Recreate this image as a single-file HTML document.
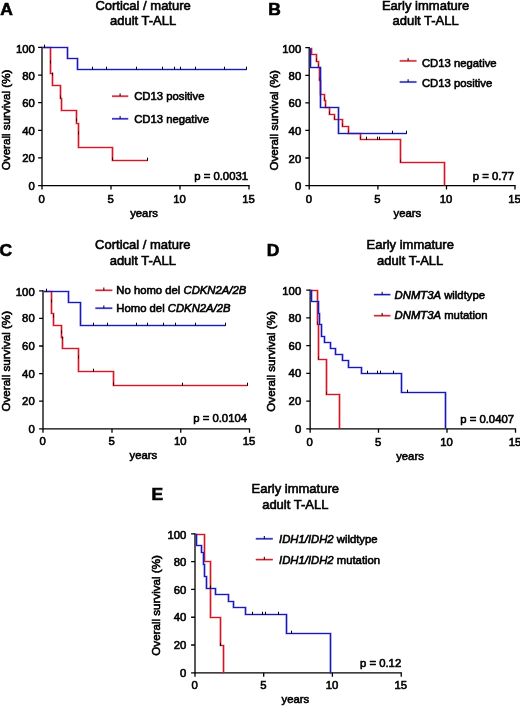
<!DOCTYPE html>
<html><head><meta charset="utf-8"><title>Survival curves</title>
<style>
html,body{margin:0;padding:0;background:#fff;}
body{width:520px;height:706px;overflow:hidden;font-family:"Liberation Sans",sans-serif;}
svg{display:block;will-change:transform;font-family:"Liberation Sans",sans-serif;fill:#000;}
text{stroke:#000;stroke-width:0.6px;}
</style></head><body>
<svg width="520" height="706" viewBox="0 0 520 706">
<rect width="520" height="706" fill="#fff"/>
<text transform="translate(0.2,15.2) scale(1.05,1)" font-size="16.6" font-weight="bold" stroke-width="0.5">A</text>
<text x="143.1" y="9.5" text-anchor="middle" font-size="13">Cortical / mature</text>
<text x="143.1" y="25.4" text-anchor="middle" font-size="13">adult T-ALL</text>
<path d="M42,46.8 V185.6 H249.6" fill="none" stroke="#000" stroke-width="1.3"/>
<path d="M38.1,185.60 H42 M38.1,157.96 H42 M38.1,130.32 H42 M38.1,102.68 H42 M38.1,75.04 H42 M38.1,47.40 H42 M42.00,185.6 V189.5 M111.00,185.6 V189.5 M180.00,185.6 V189.5 M249.00,185.6 V189.5 " fill="none" stroke="#000" stroke-width="1.3"/>
<text x="34.90" y="190.10" text-anchor="end" font-size="11.3">0</text>
<text x="34.90" y="162.46" text-anchor="end" font-size="11.3">20</text>
<text x="34.90" y="134.82" text-anchor="end" font-size="11.3">40</text>
<text x="34.90" y="107.18" text-anchor="end" font-size="11.3">60</text>
<text x="34.90" y="79.54" text-anchor="end" font-size="11.3">80</text>
<text x="34.90" y="52.80" text-anchor="end" font-size="11.3">100</text>
<text x="41.60" y="203.20" text-anchor="middle" font-size="11.3">0</text>
<text x="110.60" y="203.20" text-anchor="middle" font-size="11.3">5</text>
<text x="179.60" y="203.20" text-anchor="middle" font-size="11.3">10</text>
<text x="248.60" y="203.20" text-anchor="middle" font-size="11.3">15</text>
<text transform="translate(9.6,119.9) rotate(-90)" text-anchor="middle" font-size="11.6">Overall survival (%)</text>
<text x="144" y="216.6" text-anchor="middle" font-size="11.3">years</text>
<text x="248" y="179.8" text-anchor="end" font-size="11.3">p = 0.0031</text>
<path d="M42.50,47.50 L50.50,47.50 L50.50,73.50 L52.50,73.50 L52.50,85.50 L60.50,85.50 L60.50,98.50 L61.50,98.50 L61.50,110.50 L76.50,110.50 L76.50,123.50 L78.50,123.50 L78.50,147.50 L112.50,147.50 L112.50,160.50 L147.50,160.50" fill="none" stroke="#f03444" stroke-width="2.2" stroke-opacity="0.5" stroke-linejoin="miter"/>
<path d="M42.50,47.50 L50.50,47.50 L50.50,73.50 L52.50,73.50 L52.50,85.50 L60.50,85.50 L60.50,98.50 L61.50,98.50 L61.50,110.50 L76.50,110.50 L76.50,123.50 L78.50,123.50 L78.50,147.50 L112.50,147.50 L112.50,160.50 L147.50,160.50" fill="none" stroke="#cc1a28" stroke-width="1.2" stroke-linejoin="miter"/>
<path d="M147.50,157.70 V160.80" fill="none" stroke="#000" stroke-width="1"/>
<path d="M50.50,60.50 V63.50 M52.50,72.50 V75.50 M60.50,95.50 V98.50 M76.50,118.50 V121.50 M78.50,131.50 V134.50 M112.50,157.50 V160.50" fill="none" stroke="#000" stroke-width="1" opacity="0.75"/>
<path d="M42.50,47.50 L67.50,47.50 L67.50,58.50 L77.50,58.50 L77.50,69.50 L246.50,69.50" fill="none" stroke="#4444e4" stroke-width="2.2" stroke-opacity="0.5" stroke-linejoin="miter"/>
<path d="M42.50,47.50 L67.50,47.50 L67.50,58.50 L77.50,58.50 L77.50,69.50 L246.50,69.50" fill="none" stroke="#1a1aac" stroke-width="1.2" stroke-linejoin="miter"/>
<path d="M92.50,66.70 V69.80 M106.50,66.70 V69.80 M136.50,66.70 V69.80 M162.50,66.70 V69.80 M174.50,66.70 V69.80 M180.50,66.70 V69.80 M195.50,66.70 V69.80 M224.50,66.70 V69.80 M246.50,66.70 V69.80" fill="none" stroke="#000" stroke-width="1"/>
<path d="M44.50,44.70 V47.80" fill="none" stroke="#000" stroke-width="1"/>
<path d="M112,96.2 H128.2" stroke="#f03444" stroke-width="2.2" stroke-opacity="0.5" fill="none"/>
<path d="M112,96.2 H128.2" stroke="#cc1a28" stroke-width="1.1" fill="none"/>
<path d="M120.1,93.4 V96.2" stroke="#000" stroke-width="1" fill="none"/>
<text x="134.2" y="100.3" font-size="11.3">CD13 positive</text>
<path d="M112,118.8 H128.2" stroke="#4444e4" stroke-width="2.2" stroke-opacity="0.5" fill="none"/>
<path d="M112,118.8 H128.2" stroke="#1a1aac" stroke-width="1.1" fill="none"/>
<path d="M120.1,116.0 V118.8" stroke="#000" stroke-width="1" fill="none"/>
<text x="134.2" y="122.7" font-size="11.3">CD13 negative</text>
<text transform="translate(268.3,15.2) scale(1.05,1)" font-size="16.6" font-weight="bold" stroke-width="0.5">B</text>
<text x="425.6" y="9.5" text-anchor="middle" font-size="13">Early immature</text>
<text x="425.6" y="25.4" text-anchor="middle" font-size="13">adult T-ALL</text>
<path d="M309.2,47.1 V185.6 H515.6" fill="none" stroke="#000" stroke-width="1.3"/>
<path d="M305.3,185.60 H309.2 M305.3,158.02 H309.2 M305.3,130.44 H309.2 M305.3,102.86 H309.2 M305.3,75.28 H309.2 M305.3,47.70 H309.2 M309.20,185.6 V189.5 M377.90,185.6 V189.5 M446.50,185.6 V189.5 M515.00,185.6 V189.5 " fill="none" stroke="#000" stroke-width="1.3"/>
<text x="301.20" y="190.20" text-anchor="end" font-size="11.3">0</text>
<text x="301.20" y="162.62" text-anchor="end" font-size="11.3">20</text>
<text x="301.20" y="135.04" text-anchor="end" font-size="11.3">40</text>
<text x="301.20" y="107.46" text-anchor="end" font-size="11.3">60</text>
<text x="301.20" y="79.88" text-anchor="end" font-size="11.3">80</text>
<text x="301.20" y="53.10" text-anchor="end" font-size="11.3">100</text>
<text x="308.80" y="203.20" text-anchor="middle" font-size="11.3">0</text>
<text x="377.50" y="203.20" text-anchor="middle" font-size="11.3">5</text>
<text x="446.10" y="203.20" text-anchor="middle" font-size="11.3">10</text>
<text x="514.60" y="203.20" text-anchor="middle" font-size="11.3">15</text>
<text transform="translate(277.6,120.3) rotate(-90)" text-anchor="middle" font-size="11.6">Overall survival (%)</text>
<text x="407.3" y="216.6" text-anchor="middle" font-size="11.3">years</text>
<text x="514" y="179.7" text-anchor="end" font-size="11.3">p = 0.77</text>
<path d="M310.50,48.50 L311.50,48.50 L311.50,54.50 L316.50,54.50 L316.50,61.50 L318.50,61.50 L318.50,67.50 L319.50,67.50 L319.50,80.50 L320.50,80.50 L320.50,94.50 L324.50,94.50 L324.50,100.50 L325.50,100.50 L325.50,107.50 L329.50,107.50 L329.50,114.50 L334.50,114.50 L334.50,119.50 L342.50,119.50 L342.50,126.50 L348.50,126.50 L348.50,133.50 L360.50,133.50 L360.50,139.50 L400.50,139.50 L400.50,162.50 L444.50,162.50 L444.50,185.50" fill="none" stroke="#f03444" stroke-width="2.2" stroke-opacity="0.5" stroke-linejoin="miter"/>
<path d="M310.50,48.50 L311.50,48.50 L311.50,54.50 L316.50,54.50 L316.50,61.50 L318.50,61.50 L318.50,67.50 L319.50,67.50 L319.50,80.50 L320.50,80.50 L320.50,94.50 L324.50,94.50 L324.50,100.50 L325.50,100.50 L325.50,107.50 L329.50,107.50 L329.50,114.50 L334.50,114.50 L334.50,119.50 L342.50,119.50 L342.50,126.50 L348.50,126.50 L348.50,133.50 L360.50,133.50 L360.50,139.50 L400.50,139.50 L400.50,162.50 L444.50,162.50 L444.50,185.50" fill="none" stroke="#cc1a28" stroke-width="1.2" stroke-linejoin="miter"/>
<path d="M366.50,136.70 V139.80 M377.50,136.70 V139.80 M379.50,136.70 V139.80" fill="none" stroke="#000" stroke-width="1"/>
<path d="M316.50,58.50 V61.50 M318.50,64.50 V67.50 M319.50,77.50 V80.50 M320.50,91.50 V94.50 M324.50,97.50 V100.50 M325.50,104.50 V107.50 M329.50,111.50 V114.50 M334.50,116.50 V119.50 M342.50,123.50 V126.50 M348.50,130.50 V133.50 M360.50,136.50 V139.50 M400.50,159.50 V162.50" fill="none" stroke="#000" stroke-width="1" opacity="0.55"/>
<path d="M310.50,48.50 L310.50,48.50 L310.50,67.50 L320.50,67.50 L320.50,107.50 L338.50,107.50 L338.50,133.50 L406.50,133.50" fill="none" stroke="#4444e4" stroke-width="2.2" stroke-opacity="0.5" stroke-linejoin="miter"/>
<path d="M310.50,48.50 L310.50,48.50 L310.50,67.50 L320.50,67.50 L320.50,107.50 L338.50,107.50 L338.50,133.50 L406.50,133.50" fill="none" stroke="#1a1aac" stroke-width="1.2" stroke-linejoin="miter"/>
<path d="M392.50,130.70 V133.80 M406.50,130.70 V133.80" fill="none" stroke="#000" stroke-width="1"/>
<path d="M399.7,60.9 H416.5" stroke="#f03444" stroke-width="2.2" stroke-opacity="0.5" fill="none"/>
<path d="M399.7,60.9 H416.5" stroke="#cc1a28" stroke-width="1.1" fill="none"/>
<path d="M408.1,58.1 V60.9" stroke="#000" stroke-width="1" fill="none"/>
<text x="421.9" y="66.8" font-size="11.3">CD13 negative</text>
<path d="M399.7,82 H416.5" stroke="#4444e4" stroke-width="2.2" stroke-opacity="0.5" fill="none"/>
<path d="M399.7,82 H416.5" stroke="#1a1aac" stroke-width="1.1" fill="none"/>
<path d="M408.1,79.2 V82" stroke="#000" stroke-width="1" fill="none"/>
<text x="421.9" y="86.5" font-size="11.3">CD13 positive</text>
<text transform="translate(-0.6,256.1) scale(1.05,1)" font-size="16.6" font-weight="bold" stroke-width="0.5">C</text>
<text x="142.8" y="249.4" text-anchor="middle" font-size="13">Cortical / mature</text>
<text x="142.8" y="265.3" text-anchor="middle" font-size="13">adult T-ALL</text>
<path d="M43,290.2 V428.8 H250.1" fill="none" stroke="#000" stroke-width="1.3"/>
<path d="M39.1,428.80 H43 M39.1,401.20 H43 M39.1,373.60 H43 M39.1,346.00 H43 M39.1,318.40 H43 M39.1,290.80 H43 M43.00,428.8 V432.7 M112.00,428.8 V432.7 M180.75,428.8 V432.7 M249.50,428.8 V432.7 " fill="none" stroke="#000" stroke-width="1.3"/>
<text x="34.70" y="432.70" text-anchor="end" font-size="11.3">0</text>
<text x="34.70" y="405.10" text-anchor="end" font-size="11.3">20</text>
<text x="34.70" y="377.50" text-anchor="end" font-size="11.3">40</text>
<text x="34.70" y="349.90" text-anchor="end" font-size="11.3">60</text>
<text x="34.70" y="322.30" text-anchor="end" font-size="11.3">80</text>
<text x="34.70" y="295.60" text-anchor="end" font-size="11.3">100</text>
<text x="42.60" y="445.40" text-anchor="middle" font-size="11.3">0</text>
<text x="111.60" y="445.40" text-anchor="middle" font-size="11.3">5</text>
<text x="180.35" y="445.40" text-anchor="middle" font-size="11.3">10</text>
<text x="249.10" y="445.40" text-anchor="middle" font-size="11.3">15</text>
<text transform="translate(9.6,361.2) rotate(-90)" text-anchor="middle" font-size="11.6">Overall survival (%)</text>
<text x="143.3" y="459.2" text-anchor="middle" font-size="11.3">years</text>
<text x="247" y="422" text-anchor="end" font-size="11.3">p = 0.0104</text>
<path d="M43.50,291.50 L51.50,291.50 L51.50,313.50 L53.50,313.50 L53.50,325.50 L61.50,325.50 L61.50,337.50 L62.50,337.50 L62.50,348.50 L78.50,348.50 L78.50,371.50 L113.50,371.50 L113.50,385.50 L247.50,385.50" fill="none" stroke="#f03444" stroke-width="2.2" stroke-opacity="0.5" stroke-linejoin="miter"/>
<path d="M43.50,291.50 L51.50,291.50 L51.50,313.50 L53.50,313.50 L53.50,325.50 L61.50,325.50 L61.50,337.50 L62.50,337.50 L62.50,348.50 L78.50,348.50 L78.50,371.50 L113.50,371.50 L113.50,385.50 L247.50,385.50" fill="none" stroke="#cc1a28" stroke-width="1.2" stroke-linejoin="miter"/>
<path d="M93.50,368.70 V371.80" fill="none" stroke="#000" stroke-width="1"/>
<path d="M182.50,382.70 V385.80 M247.50,382.70 V385.80" fill="none" stroke="#000" stroke-width="1"/>
<path d="M51.50,299.50 V302.50 M53.50,314.50 V317.50 M61.50,330.50 V333.50 M62.50,336.50 V339.50 M78.50,355.50 V358.50 M113.50,382.50 V385.50" fill="none" stroke="#000" stroke-width="1" opacity="0.75"/>
<path d="M43.50,291.50 L68.50,291.50 L68.50,302.50 L80.50,302.50 L80.50,325.50 L225.50,325.50" fill="none" stroke="#4444e4" stroke-width="2.2" stroke-opacity="0.5" stroke-linejoin="miter"/>
<path d="M43.50,291.50 L68.50,291.50 L68.50,302.50 L80.50,302.50 L80.50,325.50 L225.50,325.50" fill="none" stroke="#1a1aac" stroke-width="1.2" stroke-linejoin="miter"/>
<path d="M93.50,322.70 V325.80 M107.50,322.70 V325.80 M136.50,322.70 V325.80 M147.50,322.70 V325.80 M163.50,322.70 V325.80 M175.50,322.70 V325.80 M195.50,322.70 V325.80 M225.50,322.70 V325.80" fill="none" stroke="#000" stroke-width="1"/>
<path d="M46.50,288.70 V291.80" fill="none" stroke="#000" stroke-width="1"/>
<path d="M95.4,290.3 H112.3" stroke="#f03444" stroke-width="2.2" stroke-opacity="0.5" fill="none"/>
<path d="M95.4,290.3 H112.3" stroke="#cc1a28" stroke-width="1.1" fill="none"/>
<path d="M103.85,287.5 V290.3" stroke="#000" stroke-width="1" fill="none"/>
<text x="116.3" y="294.2" font-size="11.3">No homo del <tspan font-style="italic">CDKN2A/2B</tspan></text>
<path d="M95.4,308.2 H112.3" stroke="#4444e4" stroke-width="2.2" stroke-opacity="0.5" fill="none"/>
<path d="M95.4,308.2 H112.3" stroke="#1a1aac" stroke-width="1.1" fill="none"/>
<path d="M103.85,305.4 V308.2" stroke="#000" stroke-width="1" fill="none"/>
<text x="116.3" y="312" font-size="11.3">Homo del <tspan font-style="italic">CDKN2A/2B</tspan></text>
<text transform="translate(266.8,256.3) scale(1.05,1)" font-size="16.6" font-weight="bold" stroke-width="0.5">D</text>
<text x="410.2" y="249.4" text-anchor="middle" font-size="13">Early immature</text>
<text x="410.2" y="265.3" text-anchor="middle" font-size="13">adult T-ALL</text>
<path d="M310.15,289.59999999999997 V428.8 H516.1" fill="none" stroke="#000" stroke-width="1.3"/>
<path d="M306.25,428.80 H310.15 M306.25,401.08 H310.15 M306.25,373.36 H310.15 M306.25,345.64 H310.15 M306.25,317.92 H310.15 M306.25,290.20 H310.15 M310.15,428.8 V432.7 M378.50,428.8 V432.7 M447.00,428.8 V432.7 M515.50,428.8 V432.7 " fill="none" stroke="#000" stroke-width="1.3"/>
<text x="301.20" y="432.90" text-anchor="end" font-size="11.3">0</text>
<text x="301.20" y="405.18" text-anchor="end" font-size="11.3">20</text>
<text x="301.20" y="377.46" text-anchor="end" font-size="11.3">40</text>
<text x="301.20" y="349.74" text-anchor="end" font-size="11.3">60</text>
<text x="301.20" y="322.02" text-anchor="end" font-size="11.3">80</text>
<text x="301.20" y="295.20" text-anchor="end" font-size="11.3">100</text>
<text x="309.75" y="445.60" text-anchor="middle" font-size="11.3">0</text>
<text x="378.10" y="445.60" text-anchor="middle" font-size="11.3">5</text>
<text x="446.60" y="445.60" text-anchor="middle" font-size="11.3">10</text>
<text x="515.10" y="445.60" text-anchor="middle" font-size="11.3">15</text>
<text transform="translate(275.2,361.4) rotate(-90)" text-anchor="middle" font-size="11.6">Overall survival (%)</text>
<text x="410" y="459.5" text-anchor="middle" font-size="11.3">years</text>
<text x="514" y="422.5" text-anchor="end" font-size="11.3">p = 0.0407</text>
<path d="M310.50,290.50 L317.50,290.50 L317.50,324.50 L318.50,324.50 L318.50,359.50 L326.50,359.50 L326.50,394.50 L339.50,394.50 L339.50,428.50" fill="none" stroke="#f03444" stroke-width="2.2" stroke-opacity="0.5" stroke-linejoin="miter"/>
<path d="M310.50,290.50 L317.50,290.50 L317.50,324.50 L318.50,324.50 L318.50,359.50 L326.50,359.50 L326.50,394.50 L339.50,394.50 L339.50,428.50" fill="none" stroke="#cc1a28" stroke-width="1.2" stroke-linejoin="miter"/>
<path d="M317.50,321.50 V324.50 M318.50,356.50 V359.50 M326.50,391.50 V394.50" fill="none" stroke="#000" stroke-width="1" opacity="0.5"/>
<path d="M310.50,290.50 L311.50,290.50 L311.50,301.50 L318.50,301.50 L318.50,313.50 L319.50,313.50 L319.50,324.50 L321.50,324.50 L321.50,336.50 L324.50,336.50 L324.50,342.50 L330.50,342.50 L330.50,348.50 L335.50,348.50 L335.50,354.50 L342.50,354.50 L342.50,360.50 L348.50,360.50 L348.50,367.50 L361.50,367.50 L361.50,373.50 L401.50,373.50 L401.50,392.50 L445.50,392.50 L445.50,428.50" fill="none" stroke="#4444e4" stroke-width="2.2" stroke-opacity="0.5" stroke-linejoin="miter"/>
<path d="M310.50,290.50 L311.50,290.50 L311.50,301.50 L318.50,301.50 L318.50,313.50 L319.50,313.50 L319.50,324.50 L321.50,324.50 L321.50,336.50 L324.50,336.50 L324.50,342.50 L330.50,342.50 L330.50,348.50 L335.50,348.50 L335.50,354.50 L342.50,354.50 L342.50,360.50 L348.50,360.50 L348.50,367.50 L361.50,367.50 L361.50,373.50 L401.50,373.50 L401.50,392.50 L445.50,392.50 L445.50,428.50" fill="none" stroke="#1a1aac" stroke-width="1.2" stroke-linejoin="miter"/>
<path d="M367.50,370.70 V373.80 M377.50,370.70 V373.80 M380.50,370.70 V373.80 M393.50,370.70 V373.80" fill="none" stroke="#000" stroke-width="1"/>
<path d="M407.50,389.70 V392.80" fill="none" stroke="#000" stroke-width="1"/>
<path d="M373.9,294.6 H390.4" stroke="#4444e4" stroke-width="2.2" stroke-opacity="0.5" fill="none"/>
<path d="M373.9,294.6 H390.4" stroke="#1a1aac" stroke-width="1.1" fill="none"/>
<path d="M382.15,291.8 V294.6" stroke="#000" stroke-width="1" fill="none"/>
<text x="394.6" y="298.8" font-size="11.3"><tspan font-style="italic">DNMT3A</tspan> wildtype</text>
<path d="M373.9,315.7 H390.4" stroke="#f03444" stroke-width="2.2" stroke-opacity="0.5" fill="none"/>
<path d="M373.9,315.7 H390.4" stroke="#cc1a28" stroke-width="1.1" fill="none"/>
<path d="M382.15,312.9 V315.7" stroke="#000" stroke-width="1" fill="none"/>
<text x="394.6" y="319.3" font-size="11.3"><tspan font-style="italic">DNMT3A</tspan> mutation</text>
<text transform="translate(151.5,500.1) scale(1.05,1)" font-size="16.6" font-weight="bold" stroke-width="0.5">E</text>
<text x="295.3" y="493.3" text-anchor="middle" font-size="13">Early immature</text>
<text x="295.3" y="509.2" text-anchor="middle" font-size="13">adult T-ALL</text>
<path d="M195,533.3 V672.8 H401.85" fill="none" stroke="#000" stroke-width="1.3"/>
<path d="M191.1,672.80 H195 M191.1,645.02 H195 M191.1,617.24 H195 M191.1,589.46 H195 M191.1,561.68 H195 M191.1,533.90 H195 M195.00,672.8 V676.6999999999999 M263.70,672.8 V676.6999999999999 M332.40,672.8 V676.6999999999999 M401.25,672.8 V676.6999999999999 " fill="none" stroke="#000" stroke-width="1.3"/>
<text x="186.40" y="676.90" text-anchor="end" font-size="11.3">0</text>
<text x="186.40" y="649.12" text-anchor="end" font-size="11.3">20</text>
<text x="186.40" y="621.34" text-anchor="end" font-size="11.3">40</text>
<text x="186.40" y="593.56" text-anchor="end" font-size="11.3">60</text>
<text x="186.40" y="565.78" text-anchor="end" font-size="11.3">80</text>
<text x="186.40" y="538.80" text-anchor="end" font-size="11.3">100</text>
<text x="194.60" y="689.40" text-anchor="middle" font-size="11.3">0</text>
<text x="263.30" y="689.40" text-anchor="middle" font-size="11.3">5</text>
<text x="332.00" y="689.40" text-anchor="middle" font-size="11.3">10</text>
<text x="400.85" y="689.40" text-anchor="middle" font-size="11.3">15</text>
<text transform="translate(160,605.4) rotate(-90)" text-anchor="middle" font-size="11.6">Overall survival (%)</text>
<text x="295.3" y="703.2" text-anchor="middle" font-size="11.3">years</text>
<text x="401.2" y="666.7" text-anchor="end" font-size="11.3">p = 0.12</text>
<path d="M195.50,534.50 L204.50,534.50 L204.50,561.50 L210.50,561.50 L210.50,617.50 L220.50,617.50 L220.50,645.50 L223.50,645.50 L223.50,673.50" fill="none" stroke="#f03444" stroke-width="2.2" stroke-opacity="0.5" stroke-linejoin="miter"/>
<path d="M195.50,534.50 L204.50,534.50 L204.50,561.50 L210.50,561.50 L210.50,617.50 L220.50,617.50 L220.50,645.50 L223.50,645.50 L223.50,673.50" fill="none" stroke="#cc1a28" stroke-width="1.2" stroke-linejoin="miter"/>
<path d="M195.50,534.50 L196.50,534.50 L196.50,545.50 L201.50,545.50 L201.50,552.50 L203.50,552.50 L203.50,564.50 L204.50,564.50 L204.50,576.50 L206.50,576.50 L206.50,588.50 L215.50,588.50 L215.50,594.50 L228.50,594.50 L228.50,601.50 L233.50,601.50 L233.50,607.50 L245.50,607.50 L245.50,614.50 L286.50,614.50 L286.50,633.50 L330.50,633.50 L330.50,673.50" fill="none" stroke="#4444e4" stroke-width="2.2" stroke-opacity="0.5" stroke-linejoin="miter"/>
<path d="M195.50,534.50 L196.50,534.50 L196.50,545.50 L201.50,545.50 L201.50,552.50 L203.50,552.50 L203.50,564.50 L204.50,564.50 L204.50,576.50 L206.50,576.50 L206.50,588.50 L215.50,588.50 L215.50,594.50 L228.50,594.50 L228.50,601.50 L233.50,601.50 L233.50,607.50 L245.50,607.50 L245.50,614.50 L286.50,614.50 L286.50,633.50 L330.50,633.50 L330.50,673.50" fill="none" stroke="#1a1aac" stroke-width="1.2" stroke-linejoin="miter"/>
<path d="M252.50,611.70 V614.80 M262.50,611.70 V614.80 M265.50,611.70 V614.80 M278.50,611.70 V614.80" fill="none" stroke="#000" stroke-width="1"/>
<path d="M291.50,630.70 V633.80" fill="none" stroke="#000" stroke-width="1"/>
<path d="M210.50,585.70 V588.80" fill="none" stroke="#000" stroke-width="1"/>
<path d="M220.50,642.70 V645.80" fill="none" stroke="#000" stroke-width="1"/>
<path d="M255.8,538.8 H272.8" stroke="#4444e4" stroke-width="2.2" stroke-opacity="0.5" fill="none"/>
<path d="M255.8,538.8 H272.8" stroke="#1a1aac" stroke-width="1.1" fill="none"/>
<path d="M264.3,536.0 V538.8" stroke="#000" stroke-width="1" fill="none"/>
<text x="279" y="543" font-size="11.3"><tspan font-style="italic">IDH1/IDH2</tspan> wildtype</text>
<path d="M255.8,559.6 H272.8" stroke="#f03444" stroke-width="2.2" stroke-opacity="0.5" fill="none"/>
<path d="M255.8,559.6 H272.8" stroke="#cc1a28" stroke-width="1.1" fill="none"/>
<path d="M264.3,556.8000000000001 V559.6" stroke="#000" stroke-width="1" fill="none"/>
<text x="279" y="563.6" font-size="11.3"><tspan font-style="italic">IDH1/IDH2</tspan> mutation</text>
</svg>
</body></html>
